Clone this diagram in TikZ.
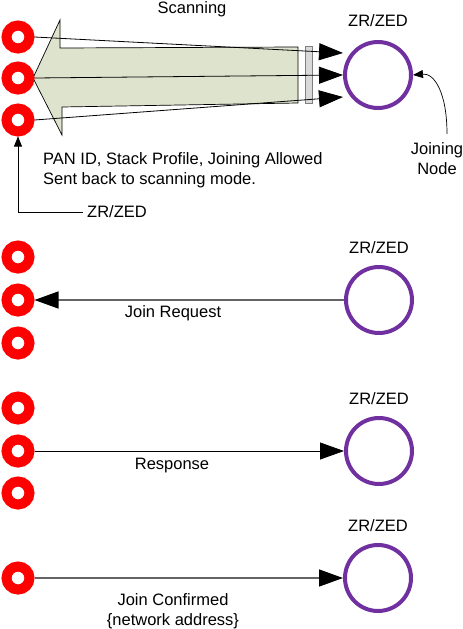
\documentclass[tikz,border=0pt]{standalone}
\usepackage{fontspec}
\setmainfont{Liberation Sans}
\usepackage{xcolor}
\usepackage{tikz}
\usetikzlibrary{arrows.meta}

\definecolor{ringred}{RGB}{255,0,0}
\definecolor{zedpurple}{RGB}{112,48,160}
\definecolor{scanfill}{RGB}{221,227,204}
\definecolor{wallgray}{RGB}{217,217,217}
\definecolor{msggray}{RGB}{100,100,100}

\begin{document}
\begin{tikzpicture}[x=1pt,y=-1pt]
\tikzstyle{every node}=[font=\fontsize{16.5}{20}\selectfont, inner sep=0pt]
\tikzstyle{ring}=[circle, draw=ringred, line width=10pt, minimum size=23pt]
\tikzstyle{zed}=[circle, draw=zedpurple, line width=4pt, minimum size=66pt]
\tikzstyle{msg}=[line width=0.8pt, -{Triangle[length=24pt,width=17pt,color=black]}]
\tikzstyle{grey msg}=[msg, draw=msggray, line width=1.4pt]
\tikzstyle{pointer}=[line width=0.7pt, -{Triangle[length=10pt,width=8pt]}]
\useasboundingbox (0,0) rectangle (463,629);
% scanning beam
\draw [fill=scanfill, line width=0.7pt] (33,78) -- (60,20) -- (60,48) -- (298,47) -- (298,103) -- (62,107) -- (62,135) -- cycle;
\draw [fill=wallgray, draw=gray, line width=0.7pt] (305,46) rectangle (312,103);
% devices
\node [ring] (scan1) at (18,37) {};
\node [ring] (scan2) at (18,78) {};
\node [ring] (scan3) at (18,120) {};
\node [ring] (req1) at (18,257) {};
\node [ring] (req2) at (18,300) {};
\node [ring] (req3) at (18,343) {};
\node [ring] (resp1) at (18,408) {};
\node [ring] (resp2) at (18,451) {};
\node [ring] (resp3) at (18,493) {};
\node [ring] (conf) at (18,578) {};
\node [zed] (zr1) at (378,75) {};
\node [zed] (zr2) at (379,300) {};
\node [zed] (zr3) at (379,451) {};
\node [zed] (zr4) at (378,578) {};
% texts
\node [anchor=base] (scanning) at (192,13) {Scanning};
\node [anchor=base] (zr1 text) at (378,27) {ZR/ZED};
\node [anchor=base] (zr2 text) at (379,253) {ZR/ZED};
\node [anchor=base] (zr3 text) at (379,404) {ZR/ZED};
\node [anchor=base] (zr4 text) at (378,531) {ZR/ZED};
\node [anchor=north west, align=left] (beacon) at (43,152) {PAN ID, Stack Profile, Joining Allowed\\Sent back to scanning mode.};
\node [anchor=west, inner sep=4pt] (zed text) at (83,212) {ZR/ZED};
\node [anchor=north, align=center] (joining) at (437,142) {Joining\\Node};
\node [anchor=base] (req text) at (173,317) {Join Request};
\node [anchor=base] (resp text) at (172,469) {Response};
\node [anchor=north, align=center] (conf text) at (173,593) {Join Confirmed\\\{network address\}};
% messages
\coordinate (tip1) at (343,53);
\coordinate (tip3) at (343,97);
\draw [msg] (scan1.east) -- (tip1);
\draw [msg] (scan2.east) -- (zr1.west);
\draw [msg] (scan3.east) -- (tip3);
\draw [pointer] ([xshift=10pt,yshift=8pt]joining.north) .. controls (447,92) and (434,73) .. (zr1.east);
\draw [pointer] (zed text.west) -| (scan3.south);
\draw [grey msg] (zr2.west) -- (req2.east);
\draw [msg] (resp2.east) -- (zr3.west);
\draw [grey msg] (conf.east) -- (zr4.west);
\end{tikzpicture}
\end{document}
